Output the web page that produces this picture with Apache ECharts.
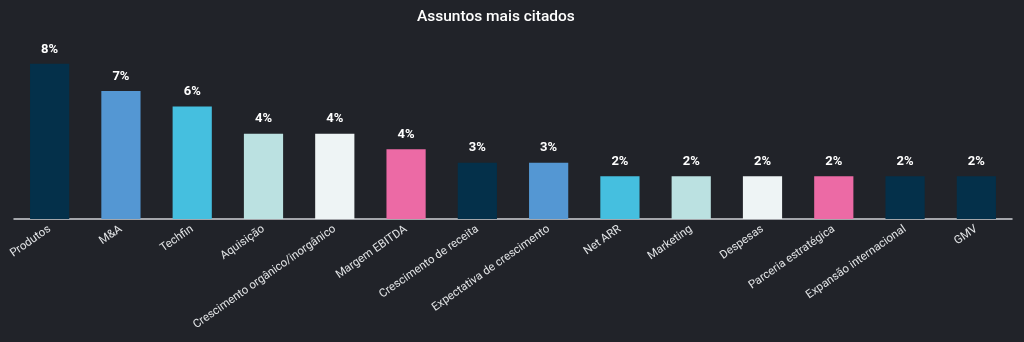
<!DOCTYPE html>
<html>
<head>
<meta charset="utf-8">
<script src="https://cdn.jsdelivr.net/npm/echarts@6/dist/echarts.min.js"></script>
<style>
html,body{margin:0;padding:0;background:#212329;}
#c{width:1024px;height:342px;}
</style>
</head>
<body>
<div id="c"></div>
<script>
const categories = ["Produtos","M&A","Techfin","Aquisição","Crescimento orgânico/inorgânico","Margem EBITDA","Crescimento de receita","Expectativa de crescimento","Net ARR","Marketing","Despesas","Parceria estratégica","Expansão internacional","GMV"];
const values = [8.0, 6.6, 5.8, 4.4, 4.4, 3.6, 2.9, 2.9, 2.2, 2.2, 2.2, 2.2, 2.2, 2.2];
const barColors = ["#04304a","#5497d3","#45bfdf","#bbe1e1","#eef4f5","#ec6aa5","#04304a","#5497d3","#45bfdf","#bbe1e1","#eef4f5","#ec6aa5","#04304a","#04304a"];

const chart = echarts.init(document.getElementById('c'));
chart.setOption({
  backgroundColor: '#212329',
  animation: false,
  title: {
    text: 'Assuntos mais citados',
    left: 412,
    top: 4,
    textStyle: {color: '#ffffff', fontSize: 15.5, fontWeight: 500, fontFamily: 'Roboto'}
  },
  grid: {left: 14, right: 12, top: 25, bottom: 123},
  xAxis: {
    type: 'category',
    data: categories,
    axisLine: {lineStyle: {color: '#cfd2d6', width: 1.5}},
    axisTick: {show: false},
    axisLabel: {color: '#e2e4e6', fontSize: 11.5, rotate: 35, interval: 0, fontFamily: 'Roboto', margin: 9}
  },
  yAxis: {type: 'value', min: 0, max: 10, show: false, splitLine: {show: false}},
  series: [{
    type: 'bar',
    barWidth: '55%',
    data: values.map((v, i) => ({value: v, itemStyle: {color: barColors[i]}})),
    label: {
      show: true,
      position: 'top',
      distance: 8,
      color: '#ffffff',
      fontSize: 13,
      fontWeight: 'bold',
      fontFamily: 'Roboto',
      formatter: p => Math.round(p.value) + '%'
    }
  }]
});
</script>
</body>
</html>
